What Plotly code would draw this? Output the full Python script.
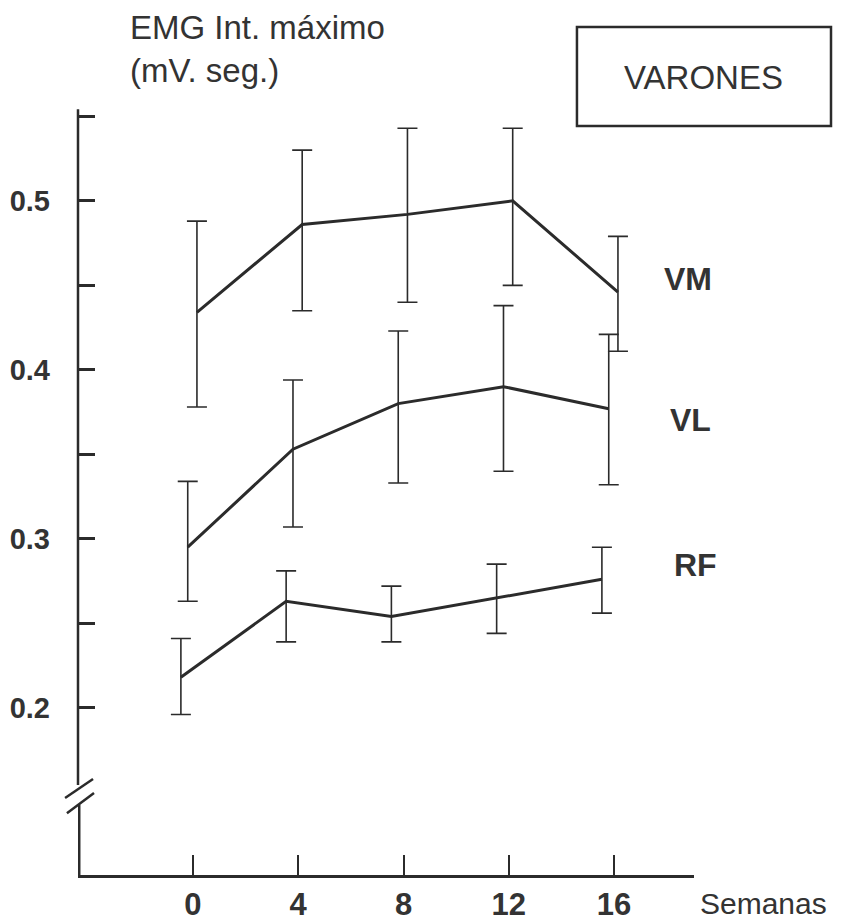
import plotly.graph_objects as go

weeks = [0, 4, 8, 12, 16]
week_labels = ["0", "4", "8", "12", "16"]

vm_mean = [0.434, 0.486, 0.492, 0.500, 0.446]
vm_upper = [0.488, 0.530, 0.543, 0.543, 0.479]
vm_lower = [0.378, 0.435, 0.440, 0.450, 0.411]

vl_mean = [0.295, 0.353, 0.380, 0.390, 0.377]
vl_upper = [0.334, 0.394, 0.423, 0.438, 0.421]
vl_lower = [0.263, 0.307, 0.333, 0.340, 0.332]

rf_mean = [0.218, 0.263, 0.254, 0.265, 0.276]
rf_upper = [0.241, 0.281, 0.272, 0.285, 0.295]
rf_lower = [0.196, 0.239, 0.239, 0.244, 0.256]

series_names = ["VM", "VL", "RF"]
y_tick_vals = [0.2, 0.25, 0.3, 0.35, 0.4, 0.45, 0.5, 0.55]
y_tick_text = ["0.2", "", "0.3", "", "0.4", "", "0.5", ""]

INK = "#2b2b2b"
TXT = "#333333"
FONT = "Liberation Sans, Arial, Helvetica, sans-serif"

# small horizontal drawing offsets (style, in weeks) as in the hand-drawn original
offsets = {"VM": 0.15, "VL": -0.2, "RF": -0.46}
label_pos = {"VM": (0.990, 0.782), "VL": (0.995, 0.597), "RF": (1.003, 0.407)}

fig = go.Figure()
for name, m, up, lo in [("VM", vm_mean, vm_upper, vm_lower),
                        ("VL", vl_mean, vl_upper, vl_lower),
                        ("RF", rf_mean, rf_upper, rf_lower)]:
    xs = [w + offsets[name] for w in weeks]
    fig.add_trace(go.Scatter(
        x=xs, y=m, mode="lines", name=name,
        line=dict(color=INK, width=3),
        error_y=dict(type="data", symmetric=False,
                     array=[u - v for u, v in zip(up, m)],
                     arrayminus=[v - l for v, l in zip(m, lo)],
                     color=INK, thickness=1.6, width=10),
        showlegend=False, cliponaxis=False,
    ))
    lx, ly = label_pos[name]
    fig.add_annotation(x=lx, y=ly, xref="paper", yref="paper", text=f"<b>{name}</b>",
                       xanchor="center", yanchor="middle",
                       showarrow=False, font=dict(family=FONT, size=32, color=TXT))

# y-axis with break drawn as shapes
shape_line = dict(color=INK, width=2.5)
fig.add_shape(type="line", xref="paper", yref="paper", x0=0, x1=0, y0=1.005, y1=0.118, line=shape_line)
fig.add_shape(type="line", xref="paper", yref="paper", x0=0.002, x1=0.002, y0=0.092, y1=0, line=shape_line)
fig.add_shape(type="line", xref="paper", yref="paper", x0=-0.021, x1=0.0244, y0=0.101, y1=0.126, line=shape_line)
fig.add_shape(type="line", xref="paper", yref="paper", x0=-0.018, x1=0.026, y0=0.081, y1=0.1076, line=shape_line)

# VARONES box
fig.add_shape(type="rect", xref="paper", yref="paper", x0=0.810, x1=1.2224, y0=0.983, y1=1.1129,
              line=dict(color=INK, width=2.5))
fig.add_annotation(x=1.0162, y=1.0472, xref="paper", yref="paper", text="VARONES", showarrow=False,
                   xanchor="center", yanchor="middle",
                   font=dict(family=FONT, size=33, color=TXT))

fig.add_annotation(x=0.081, y=1.139, xref="paper", yref="paper", xanchor="left", yanchor="top",
                   align="left", text="EMG Int. máximo<br>(mV. seg.)", showarrow=False,
                   font=dict(family=FONT, size=33, color=TXT))
fig.add_annotation(x=1.0065, y=-0.037, xref="paper", yref="paper", xanchor="left", yanchor="middle",
                   text="Semanas", showarrow=False, font=dict(family=FONT, size=30, color=TXT))

# page body has an 8px margin, so the figure is offset by 8px inside the window
fig.update_layout(
    width=833, height=914,
    margin=dict(l=70, r=147, t=105, b=47, autoexpand=False),
    paper_bgcolor="white", plot_bgcolor="white",
    xaxis=dict(range=[-4.37, 19.04], tickvals=weeks, ticktext=week_labels, automargin=False,
               showgrid=False, zeroline=False, showline=True, linecolor=INK, linewidth=2.5,
               ticks="inside", ticklen=20, tickwidth=2, tickcolor=INK,
               tickfont=dict(family=FONT, size=31, color=TXT, weight="bold"),
               ticklabelstandoff=0),
    yaxis=dict(range=[0.101, 0.552], tickvals=y_tick_vals, ticktext=y_tick_text, automargin=False,
               showgrid=False, zeroline=False, showline=False,
               ticks="inside", ticklen=17, tickwidth=2.5, tickcolor=INK,
               tickfont=dict(family=FONT, size=29, color=TXT, weight="bold"),
               ticklabelstandoff=27),
)

fig.write_html("out.html")
